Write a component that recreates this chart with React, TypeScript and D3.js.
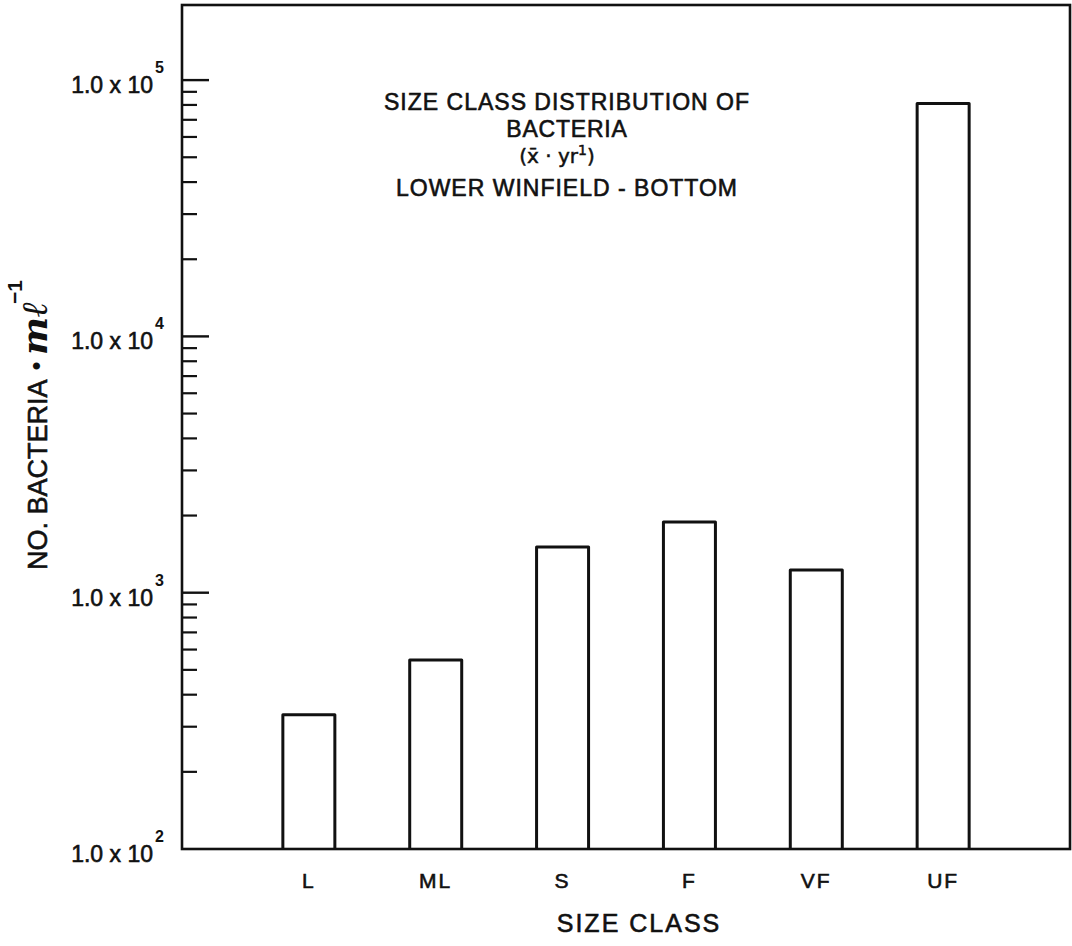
import React from "react";
import * as d3 from "d3";

// Size classes and yearly mean bacterial counts (cells per ml)
const sizeClasses: string[] = ["L", "ML", "S", "F", "VF", "UF"];
const meanCounts: number[] = [334, 546, 1508, 1888, 1227, 81000];

// Decade tick exponents shown on the count axis
const decadeExponents: number[] = [2, 3, 4, 5];
const minorMultipliers: number[] = [2, 3, 4, 5, 6, 7, 8, 9];

const titleLines: string[] = ["SIZE CLASS DISTRIBUTION OF", "BACTERIA", "LOWER WINFIELD - BOTTOM"];
const titleBaselines: number[] = [110, 137, 196];

const W = 1072;
const H = 946;
const plot = { left: 182, right: 1070, top: 5, bottom: 849 };
const decadePx = 256.3;
const FONT = "'Liberation Sans', Arial, Helvetica, sans-serif";
const INK = "#111";

// a thin outline on the glyphs gives the heavier lettering weight
const ink = { fill: INK, stroke: INK, strokeWidth: 0.6 };

export default function App() {
  const topExp = 2 + (plot.bottom - plot.top) / decadePx;
  const y = d3
    .scaleLog()
    .domain([100, Math.pow(10, topExp)])
    .range([plot.bottom, plot.top]);

  const x = d3
    .scalePoint<string>()
    .domain(sizeClasses)
    .range([plot.left, plot.right])
    .padding(1);

  const barW = 52;

  const minorTicks: number[] = [];
  decadeExponents.forEach((e) => {
    if (e < 5) minorMultipliers.forEach((m) => minorTicks.push(m * Math.pow(10, e)));
  });

  return (
    <svg
      width={W}
      height={H}
      viewBox={`0 0 ${W} ${H}`}
      style={{ position: "absolute", left: 0, top: 0, background: "#fff" }}
    >
      <rect x={0} y={0} width={W} height={H} fill="#fff" />

      {/* plot frame */}
      <rect
        x={plot.left}
        y={plot.top}
        width={plot.right - plot.left}
        height={plot.bottom - plot.top}
        fill="none"
        stroke={INK}
        strokeWidth={2.6}
      />

      {/* minor ticks */}
      {minorTicks.map((v) => (
        <line
          key={`mn${v}`}
          x1={plot.left}
          x2={plot.left + 15}
          y1={y(v)}
          y2={y(v)}
          stroke={INK}
          strokeWidth={2.2}
        />
      ))}

      {/* major ticks and labels */}
      {decadeExponents.map((e) => {
        const yy = y(Math.pow(10, e));
        return (
          <g key={`mj${e}`}>
            {e > 2 && (
              <line
                x1={plot.left}
                x2={plot.left + 27}
                y1={yy}
                y2={yy}
                stroke={INK}
                strokeWidth={2.4}
              />
            )}
            <text x={153} y={yy + 13} textAnchor="end" fontFamily={FONT} fontSize={23} {...ink}>
              1.0 x 10
            </text>
            <text
              x={155}
              y={yy - 7}
              textAnchor="start"
              fontFamily={FONT}
              fontSize={16}
              fontWeight="bold"
              fill={INK}
            >
              {String(e)}
            </text>
          </g>
        );
      })}

      {/* bars */}
      {sizeClasses.map((c, i) => {
        const cx = x(c) as number;
        const top = y(meanCounts[i]);
        return (
          <path
            key={c}
            d={`M${cx - barW / 2},${plot.bottom} V${top} H${cx + barW / 2} V${plot.bottom}`}
            fill="none"
            stroke={INK}
            strokeWidth={3}
            strokeLinejoin="round"
          />
        );
      })}

      {/* category labels */}
      {sizeClasses.map((c) => (
        <text
          key={`lb${c}`}
          x={x(c) as number}
          y={888}
          textAnchor="middle"
          fontFamily={FONT}
          fontSize={21}
          letterSpacing={2}
          {...ink}
        >
          {c}
        </text>
      ))}

      {/* x axis title */}
      <text x={639} y={932} textAnchor="middle" fontFamily={FONT} fontSize={25} letterSpacing={2} {...ink}>
        SIZE CLASS
      </text>

      {/* y axis title */}
      <text transform="translate(47,570) rotate(-90)" fontFamily={FONT} fontSize={27} {...ink}>
        NO. BACTERIA
      </text>
      <text
        transform="translate(45,366) rotate(-90)"
        textAnchor="middle"
        fontFamily={FONT}
        fontSize={26}
        fill={INK}
      >
        {"\u2022"}
      </text>
      <text
        transform="translate(47,355) rotate(-90)"
        fontFamily="'DejaVu Serif', serif"
        fontStyle="italic"
        fontWeight="bold"
        fontSize={36}
        fill={INK}
      >
        {"m\u2113"}
      </text>
      <text
        transform="translate(22,304) rotate(-90)"
        fontFamily={FONT}
        fontSize={21}
        fontWeight="bold"
        fill={INK}
      >
        {"\u22121"}
      </text>

      {/* chart title */}
      {titleLines.map((t, i) => (
        <text
          key={`t${i}`}
          x={567}
          y={titleBaselines[i]}
          textAnchor="middle"
          fontFamily={FONT}
          fontSize={23}
          letterSpacing={i === 1 ? 0.8 : 1}
          {...ink}
        >
          {t}
        </text>
      ))}
      <text
        x={557}
        y={163}
        textAnchor="middle"
        fontFamily="'DejaVu Sans', sans-serif"
        fontSize={20}
        fill={INK}
        stroke={INK}
        strokeWidth={0.5}
      >
        {"(x\u0304 \u00b7 yr"}
        <tspan dy={-8} fontSize={14}>
          1
        </tspan>
        <tspan dy={8}>)</tspan>
      </text>
    </svg>
  );
}
